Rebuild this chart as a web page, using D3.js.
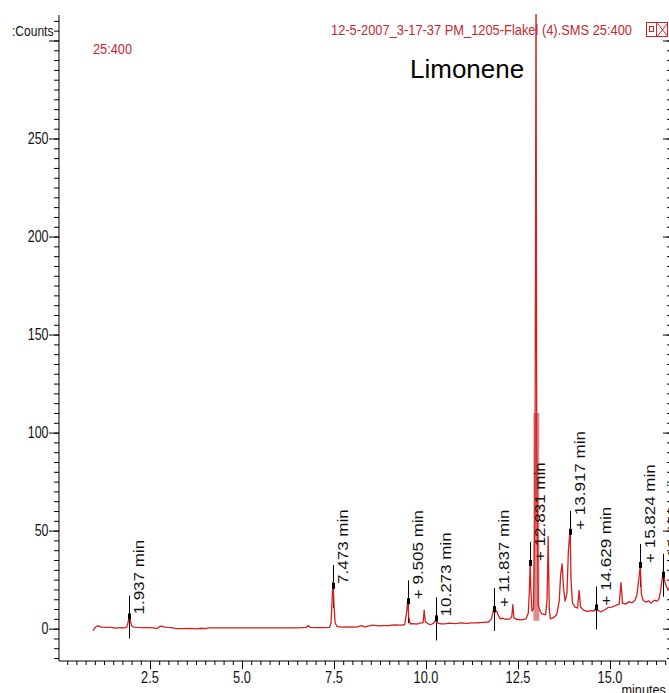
<!DOCTYPE html>
<html>
<head>
<meta charset="utf-8">
<script src="https://cdn.jsdelivr.net/npm/d3@7"></script>
<style>
  body { margin: 0; background: #fff; }
  svg { display: block; font-family: "Liberation Sans", Arial, sans-serif; }
</style>
</head>
<body>
<script>
// chromatogram: retention time (minutes) and counts
var traceTimes = [0.95, 1.0, 1.05, 1.1, 1.18, 1.3, 1.45, 1.55, 1.62, 1.7, 1.8, 1.87, 1.91, 1.937, 1.96, 2.0, 2.05, 2.15, 2.3, 2.45,
  2.6, 2.68, 2.75, 2.82, 2.9, 3.0, 3.1, 3.2, 3.4, 3.6, 3.75, 3.9, 4.0, 4.1, 4.5, 5.0, 5.5, 6.0, 6.5, 6.75,
  6.8, 6.85, 7.0, 7.2, 7.38, 7.42, 7.45, 7.473, 7.5, 7.53, 7.58, 7.7, 7.9, 8.1, 8.25, 8.32, 8.4, 8.55, 8.7, 8.85,
  9.0, 9.15, 9.3, 9.42, 9.47, 9.505, 9.53, 9.57, 9.65, 9.75, 9.85, 9.92, 9.95, 9.98, 10.05, 10.12, 10.2, 10.25, 10.273, 10.3,
  10.4, 10.5, 10.65, 10.8, 10.95, 11.1, 11.25, 11.4, 11.55, 11.7, 11.78, 11.837, 11.87, 11.92, 11.97, 12.02, 12.07, 12.15, 12.28, 12.33,
  12.36, 12.39, 12.45, 12.6, 12.72, 12.78, 12.81, 12.831, 12.85, 12.88, 12.92, 12.96, 12.99, 13.01, 13.05, 13.1, 13.15, 13.25, 13.29, 13.32,
  13.35, 13.38, 13.45, 13.55, 13.62, 13.66, 13.7, 13.74, 13.78, 13.83, 13.87, 13.917, 13.94, 13.98, 14.05, 14.12, 14.16, 14.2, 14.28, 14.38,
  14.48, 14.56, 14.629, 14.66, 14.75, 14.85, 14.95, 15.05, 15.15, 15.25, 15.3, 15.34, 15.42, 15.52, 15.6, 15.68, 15.73, 15.8, 15.824, 15.85,
  15.9, 15.97, 16.05, 16.12, 16.2, 16.27, 16.33, 16.38, 16.42, 16.452, 16.5, 16.55, 16.6];
var traceCounts = [-1.0, 0.3, 1.3, 1.4, 0.8, 0.7, 0.6, 0.3, 0.4, 0.5, 0.4, 0.8, 3.5, 7.0, 4.5, 1.5, 0.8, 0.6, 0.5, 0.5,
  0.4, 0.0, 1.0, 1.3, 0.8, 0.6, 0.5, 0.0, 0.0, 0.1, -0.1, 0.2, 0.0, 0.4, 0.4, 0.4, 0.4, 0.4, 0.4, 0.6,
  1.6, 0.7, 0.5, 0.5, 0.6, 3.0, 15.0, 24.0, 12.0, 3.0, 1.2, 0.8, 0.9, 0.8, 1.6, 0.9, 1.2, 1.8, 1.4, 1.5,
  1.6, 1.9, 1.8, 2.0, 8.0, 14.5, 6.0, 2.5, 2.6, 2.3, 2.9, 3.0, 9.5, 3.5, 2.6, 2.0, 2.7, 4.0, 5.2, 3.0,
  2.5, 2.4, 2.8, 2.6, 2.9, 2.7, 2.9, 3.0, 3.2, 3.4, 5.0, 10.0, 8.3, 9.0, 6.5, 5.0, 5.4, 4.8, 5.0, 6.0,
  12.2, 5.5, 4.8, 4.5, 5.0, 8.0, 20.0, 34.0, 20.0, 9.0, 10.0, 60.0, 330.0, 80.0, 12.0, 9.0, 7.5, 7.0, 15.0, 47.0,
  10.0, 5.0, 5.5, 7.0, 14.0, 28.0, 33.0, 20.0, 14.0, 18.0, 40.0, 51.0, 25.0, 13.0, 11.0, 10.5, 19.5, 11.0, 9.5, 8.8,
  9.2, 9.0, 10.8, 9.5, 8.6, 9.5, 10.8, 11.0, 11.8, 12.5, 23.5, 13.0, 12.5, 13.8, 13.2, 14.5, 17.0, 28.0, 33.0, 18.0,
  14.5, 13.5, 14.2, 13.0, 14.5, 14.0, 15.0, 20.0, 26.0, 28.0, 23.0, 21.0, 20.0];

// integrated peaks with their labels
var peakTimes = [1.937, 7.473, 9.505, 10.273, 11.837, 12.831, 13.917, 14.629, 15.824, 16.452];
var peakCounts = [6.2, 21.8, 14.0, 5.2, 10.0, 33.5, 49.4, 10.8, 32.5, 27.5];
var peakLabels = ["1.937 min", "7.473 min", "+ 9.505 min", "10.273 min", "+ 11.837 min", "+ 12.831 min",
  "+ 13.917 min", "+ 14.629 min", "+ 15.824 min", "+ 16.452 min"];

// shaded limonene peak: start, end, height
var limoneneBand = [12.92, 13.08, 110];

// ticks
var xTicks = [2.5, 5.0, 7.5, 10.0, 12.5, 15.0];
var yTicks = [0, 50, 100, 150, 200, 250];

var width = 669;
var height = 693;
var red = "#d41f1f";

var svg = d3.select("body")
  .append("svg")
  .attr("width", width)
  .attr("height", height);

var xScale = d3.scaleLinear()
  .domain([0.027, 16.576])
  .range([59, 668]);

var yScale = d3.scaleLinear()
  .domain([-16.5, 313])
  .range([661, 15]);

var clip = svg.append("clipPath").attr("id", "plot")
  .append("rect")
  .attr("x", 59).attr("y", 14)
  .attr("width", 612).attr("height", 647);

// minor and major ticks on the left
svg.append("g")
  .attr("transform", "translate(59,0)")
  .call(d3.axisLeft(yScale).tickValues(d3.range(-15, 311, 5)).tickSize(5).tickFormat(""))
  .call(function(g) { g.select(".domain").remove(); });

svg.append("g")
  .attr("transform", "translate(59,0)")
  .call(d3.axisLeft(yScale).tickValues(yTicks.concat([300])).tickSize(10).tickFormat(""))
  .call(function(g) { g.select(".domain").remove(); });

svg.append("line")
  .attr("x1", 59).attr("x2", 59)
  .attr("y1", 15).attr("y2", 661)
  .attr("stroke", "#000");

// right side ticks (pointing inwards)
svg.append("g")
  .attr("transform", "translate(670,0)")
  .call(d3.axisLeft(yScale).tickValues(d3.range(-15, 301, 5)).tickSize(3).tickFormat(""))
  .call(function(g) { g.select(".domain").remove(); });

svg.append("g")
  .attr("transform", "translate(670,0)")
  .call(d3.axisLeft(yScale).tickValues(yTicks.concat([300])).tickSize(7).tickFormat(""))
  .call(function(g) { g.select(".domain").remove(); });

// x axis
svg.append("g")
  .attr("transform", "translate(0,661)")
  .call(d3.axisBottom(xScale).tickValues(d3.range(0.25, 16.6, 0.25)).tickSize(4).tickFormat(""))
  .call(function(g) { g.select(".domain").remove(); });

svg.append("g")
  .attr("transform", "translate(0,661)")
  .call(d3.axisBottom(xScale).tickValues(xTicks).tickSize(8).tickFormat(""))
  .call(function(g) { g.select(".domain").remove(); });

svg.append("line")
  .attr("x1", 59).attr("x2", 666)
  .attr("y1", 661).attr("y2", 661)
  .attr("stroke", "#000");

// tick labels, squeezed like the original export
svg.selectAll(".ylab")
  .data(yTicks)
  .enter()
  .append("text")
  .attr("class", "ylab")
  .attr("transform", function(d) { return "translate(" + [48.5, yScale(d)] + ") scale(0.78,1)"; })
  .attr("dy", "0.35em")
  .attr("text-anchor", "end")
  .attr("font-size", 16)
  .attr("fill", "#111")
  .text(function(d) { return d; });

svg.selectAll(".xlab")
  .data(xTicks)
  .enter()
  .append("text")
  .attr("class", "xlab")
  .attr("transform", function(d) { return "translate(" + [xScale(d), 683] + ") scale(0.8,1)"; })
  .attr("text-anchor", "middle")
  .attr("font-size", 16)
  .attr("fill", "#111")
  .text(d3.format(".1f"));

svg.append("text")
  .attr("transform", "translate(12,36) scale(0.86,1)")
  .attr("font-size", 14)
  .attr("fill", "#111")
  .text(":Counts");

svg.append("text")
  .attr("transform", "translate(666,695) scale(0.85,1)")
  .attr("text-anchor", "end")
  .attr("font-size", 15)
  .attr("fill", "#111")
  .text("minutes");

// header texts
svg.append("text")
  .attr("x", 331).attr("y", 35)
  .attr("font-size", 14)
  .attr("fill", "#c8282d")
  .attr("textLength", 301)
  .attr("lengthAdjust", "spacingAndGlyphs")
  .text("12-5-2007_3-17-37 PM_1205-Flakel (4).SMS 25:400");

svg.append("text")
  .attr("x", 93).attr("y", 54)
  .attr("font-size", 14)
  .attr("fill", "#c8282d")
  .attr("textLength", 39)
  .attr("lengthAdjust", "spacingAndGlyphs")
  .text("25:400");

svg.append("text")
  .attr("x", 410).attr("y", 78)
  .attr("font-size", 26)
  .attr("fill", "#000")
  .text("Limonene");

// little window buttons
var btn = svg.append("g").attr("fill", "none").attr("stroke", "#d42020");
btn.append("rect").attr("x", 646.5).attr("y", 22.5).attr("width", 21).attr("height", 14);
btn.append("line").attr("x1", 656.5).attr("x2", 656.5).attr("y1", 22.5).attr("y2", 36.5);
btn.append("rect").attr("x", 649.5).attr("y", 26.5).attr("width", 4).attr("height", 5);
btn.append("path").attr("d", "M657.5,23.5 L667.5,36 M667.5,23.5 L657.5,36");

// peak marker lines
var peaks = peakTimes.map(function(t, i) {
  return { t: t, c: peakCounts[i], label: peakLabels[i] };
});

svg.selectAll(".pline")
  .data(peaks)
  .enter()
  .append("line")
  .attr("class", "pline")
  .attr("x1", function(d) { return Math.round(xScale(d.t)) + 0.5; })
  .attr("x2", function(d) { return Math.round(xScale(d.t)) + 0.5; })
  .attr("y1", function(d) { return yScale(d.c) - 21; })
  .attr("y2", function(d) { return yScale(d.c) + 22; })
  .attr("stroke", "#000")
  .attr("stroke-width", 1);

// limonene shading
svg.append("rect")
  .attr("x", xScale(limoneneBand[0]))
  .attr("y", yScale(limoneneBand[2]))
  .attr("width", xScale(limoneneBand[1]) - xScale(limoneneBand[0]))
  .attr("height", yScale(4) - yScale(limoneneBand[2]))
  .attr("fill", "#dc8a8a");

// the trace
var trace = traceTimes.map(function(t, i) { return [t, traceCounts[i]]; });

var line = d3.line()
  .x(function(d) { return xScale(d[0]); })
  .y(function(d) { return yScale(d[1]); });

svg.append("path")
  .datum(trace)
  .attr("clip-path", "url(#plot)")
  .attr("d", line)
  .attr("fill", "none")
  .attr("stroke", red)
  .attr("stroke-width", 1.3)
  .attr("stroke-linejoin", "round");

// peak markers on top
svg.selectAll(".pmark")
  .data(peaks)
  .enter()
  .append("rect")
  .attr("class", "pmark")
  .attr("x", function(d) { return Math.round(xScale(d.t)) - 1; })
  .attr("y", function(d) { return yScale(d.c) - 3; })
  .attr("width", 3)
  .attr("height", 6)
  .attr("fill", "#000");

svg.selectAll(".plabel")
  .data(peaks)
  .enter()
  .append("text")
  .attr("class", "plabel")
  .attr("transform", function(d) {
    return "translate(" + [Math.round(xScale(d.t)) + 15, yScale(d.c) - 2] + ") scale(0.82,1) rotate(-90)";
  })
  .attr("font-size", 17)
  .attr("fill", "#111")
  .text(function(d) { return d.label; });
</script>
</body>
</html>
